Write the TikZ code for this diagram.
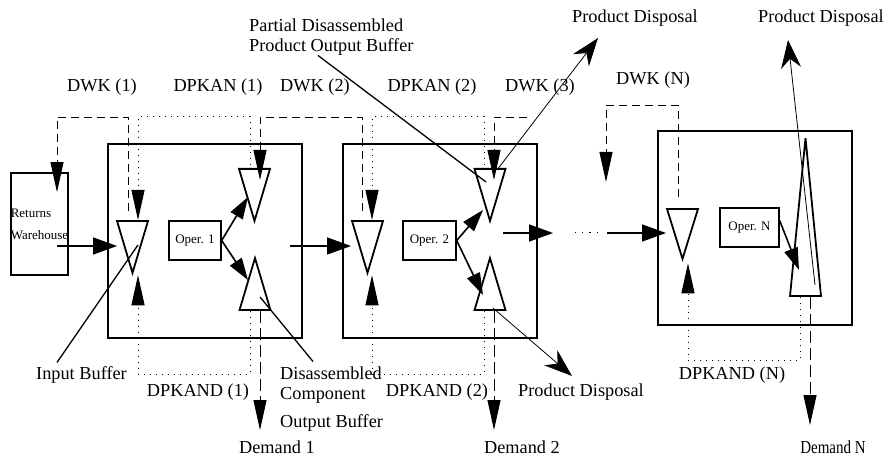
\documentclass[tikz,border=0pt]{standalone}
\usepackage{fontspec}
\setmainfont{Liberation Serif}
\newfontfamily\narrowserif[FakeStretch=0.82]{Liberation Serif}
\usetikzlibrary{shapes.geometric, arrows.meta}

\begin{document}
\begin{tikzpicture}[x=1pt, y=1pt,
    station/.style={rectangle, draw, line width=1.8pt, minimum width=194pt, minimum height=194pt, inner sep=0pt},
    whouse/.style={rectangle, draw, line width=1.8pt, minimum width=57pt, minimum height=102pt, inner sep=0pt, align=left, font=\fontsize{13}{22}\selectfont},
    oper/.style={rectangle, draw, line width=1.3pt, minimum width=52pt, minimum height=39pt, inner sep=0pt, font=\fontsize{13}{15}\selectfont},
    bufdown/.style={isosceles triangle, isosceles triangle stretches, shape border rotate=270, draw, line width=1.8pt, minimum width=31pt, minimum height=52pt, inner sep=0pt},
    bufup/.style={bufdown, shape border rotate=90},
    lbl/.style={inner sep=0pt, font=\fontsize{18.3}{20}\selectfont},
    flow/.style={-{Triangle[length=24pt, width=17pt]}, line width=1.6pt},
    feed/.style={-{Triangle[length=22pt, width=14pt]}, line width=1.6pt},
    dwk/.style={-{Triangle[length=30pt, width=13pt]}, line width=0.9pt, dash pattern=on 8pt off 5pt},
    dpkan/.style={-{Triangle[length=30pt, width=13pt]}, line width=1pt, dash pattern=on 1.2pt off 4.8pt},
    demand/.style={-{Triangle[length=30pt, width=13pt]}, line width=0.9pt, dash pattern=on 12pt off 5pt},
    dispose/.style={-{Stealth[length=28pt, width=20pt, inset=9pt]}, line width=0.8pt},
    leader/.style={line width=1.3pt}
]
\useasboundingbox (0,0) rectangle (885,458);

\node[whouse] (w) at (39.5,234) {Returns\\Warehouse};
\node[station] (s1) at (205,217) {};
\node[station] (s2) at (440,217) {};
\node[station] (sN) at (755,230) {};
\node[oper] (op1) at (195,217.5) {Oper. 1};
\node[oper, minimum width=53pt] (op2) at (429.5,217.5) {Oper. 2};
\node[oper, minimum width=59pt] (opN) at (749.5,230.5) {Oper. N};

\node[bufdown, anchor=north] (ib1) at (132.5,238) {};
\node[bufdown, anchor=north] (ub1) at (254.5,290) {};
\node[bufup, anchor=south] (lb1) at (255,147) {};
\node[bufdown, anchor=north] (ib2) at (367.5,238) {};
\node[bufdown, anchor=north] (ub2) at (490,290) {};
\node[bufup, anchor=south] (lb2) at (490,147) {};
\node[bufdown, anchor=north, minimum height=50pt] (ibN) at (682.5,250) {};
\node[bufup, anchor=south, minimum height=158pt] (obN) at (805.5,161) {};

\node[lbl] (dwk1) at (102,371) {DWK (1)};
\node[lbl] (dpkan1) at (218,371) {DPKAN (1)};
\node[lbl] (dwk2) at (315,371) {DWK (2)};
\node[lbl] (dpkan2) at (432,371) {DPKAN (2)};
\node[lbl] (dwk3) at (540,371) {DWK (3)};
\node[lbl] (dwkN) at (653,378) {DWK (N)};
\node[lbl] (dpkand1) at (198,66) {DPKAND (1)};
\node[lbl] (dpkand2) at (437,66) {DPKAND (2)};
\node[lbl] (dpkandN) at (732,83) {DPKAND (N)};
\node[lbl] (dem1) at (277,11) {Demand 1};
\node[lbl] (dem2) at (522,11) {Demand 2};
\node[lbl, font=\narrowserif\fontsize{18.3}{20}\selectfont] (demN) at (833,11) {Demand N};
\node[lbl, anchor=west] (disp1) at (572,440) {Product Disposal};
\node[lbl, anchor=west] (disp2) at (518,66) {Product Disposal};
\node[lbl, anchor=west] (disp3) at (758,440) {Product Disposal};
\node[lbl, anchor=west, align=left] (pdob) at (249,421) {Partial Disassembled\\Product Output Buffer};
\node[lbl, anchor=west] (inb) at (36,83) {Input Buffer};
\node[lbl, anchor=west, align=left] (dcob) at (280,59) {Disassembled\\Component\\[8pt]Output Buffer};

\coordinate (o1) at (290,212);
\coordinate (o2) at (503,225);
\coordinate (g1) at (553,225);
\coordinate (g2) at (575,225);
\coordinate (g3) at (600,225);
\coordinate (g4) at (607,225);
\coordinate (k3) at (527,341);
\coordinate (kN) at (606,276);
\coordinate (d1) at (260,28);
\coordinate (d2) at (494,28);
\coordinate (dN) at (810,33);
\coordinate (x1) at (598,420);
\coordinate (x2) at (572,82);
\coordinate (x3) at (788,418);

\draw[flow] ([xshift=17.5pt,yshift=-22pt]w.center) -- ([xshift=-15.5pt,yshift=-26pt]ib1.north);
\draw[flow] (o1) -- ([xshift=-16.5pt,yshift=-26pt]ib2.north);
\draw[flow] (o2) -- (g1);
\draw[line width=1pt, dash pattern=on 1.2pt off 6pt] (g2) -- (g3);
\draw[flow] (g4) -- ([xshift=-16.5pt,yshift=-25pt]ibN.north);

\draw[feed] (op1.east) -- ([xshift=-6.5pt,yshift=-29pt]ub1.north);
\draw[feed] (op1.east) -- ([xshift=-7pt,yshift=31pt]lb1.south);
\draw[feed] (op2.east) -- ([xshift=-7pt,yshift=-42pt]ub2.north);
\draw[feed] (op2.east) -- ([xshift=-7pt,yshift=16pt]lb2.south);
\draw[feed] ([yshift=7pt]opN.east) -- ([xshift=-6.5pt,yshift=27pt]obN.south);

\draw[dwk] ([xshift=-4.5pt,yshift=9pt]ib1.north) -- ++(0,94) -| ([xshift=17.5pt,yshift=-20pt]w.north);
\draw[dpkan] ([xshift=-4.5pt,yshift=3pt]ub1.north) -- ++(0,48) -| ([xshift=5.5pt]ib1.north);
\draw[dwk] ([xshift=-5.5pt,yshift=9pt]ib2.north) -- ++(0,94) -| ([xshift=5.5pt,yshift=-12pt]ub1.north);
\draw[dpkan] ([xshift=-6pt,yshift=3pt]ub2.north) -- ++(0,48) -| ([xshift=4.5pt]ib2.north);
\draw[dwk] (k3) -| ([xshift=4pt,yshift=-12pt]ub2.north);
\draw[dwk] ([xshift=-4.5pt,yshift=11pt]ibN.north) -- ++(0,92) -| (kN);

\draw[dpkan] ([xshift=-5pt]lb1.south) -- ++(0,-63) -| ([xshift=5.5pt]ib1.south);
\draw[demand] ([xshift=5pt]lb1.south) -- (d1);
\draw[dpkan] ([xshift=-6pt]lb2.south) -- ++(0,-63) -| ([xshift=4.5pt]ib2.south);
\draw[demand] ([xshift=4pt]lb2.south) -- (d2);
\draw[dpkan] ([xshift=-5.5pt]obN.south) -- ++(0,-63) -| ([xshift=5.5pt,yshift=-2pt]ibN.south);
\draw[demand] ([xshift=4.5pt]obN.south) -- (dN);

\draw[dispose] ([xshift=7pt,yshift=-2pt]ub2.north) -- (x1);
\draw[dispose] ([xshift=3pt,yshift=3pt]lb2.south) -- (x2);
\draw[dispose] ([xshift=9.5pt,yshift=12pt]obN.south) -- (x3);

\draw[leader] ([xshift=69pt]pdob.south west) -- ([xshift=-4pt,yshift=-14pt]ub2.north);
\draw[leader] ([xshift=21pt,yshift=4pt]inb.north west) -- ([xshift=5.5pt,yshift=-25pt]ib1.north);
\draw[leader] ([xshift=33pt,yshift=5pt]dcob.north west) -- ([xshift=5pt,yshift=14pt]lb1.south);
\end{tikzpicture}
\end{document}
